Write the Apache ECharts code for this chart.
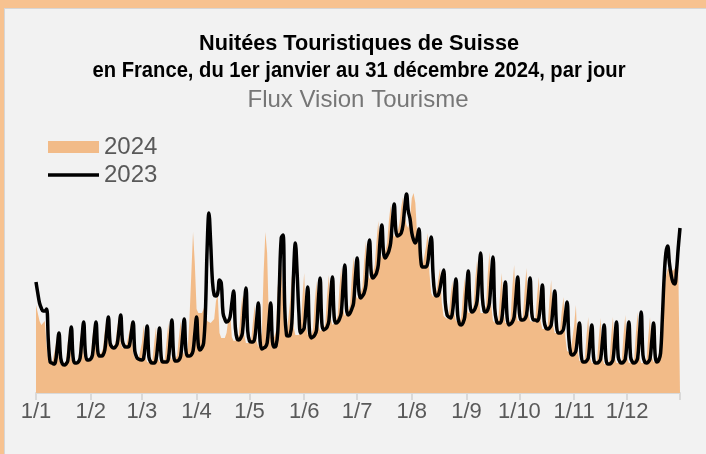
<!DOCTYPE html>
<html>
<head>
<meta charset="utf-8">
<title>Nuitées Touristiques de Suisse</title>
<script src="https://cdn.jsdelivr.net/npm/echarts@6/dist/echarts.min.js"></script>
<style>
  body { margin: 0; background: #F7C290; overflow: hidden; }
  #frame { position: absolute; left: 4px; top: 8px; width: 720px; height: 460px; background: #F2F2F2; border: 1px solid #D6D6D6; }
  #chart { position: absolute; left: 0; top: 0; width: 706px; height: 454px; }
</style>
</head>
<body>
<div id="frame"></div>
<div id="chart"></div>
<script>
// libellés des mois affichés sur l'axe
var monthLabels = ['1/1', '1/2', '1/3', '1/4', '1/5', '1/6', '1/7', '1/8', '1/9', '1/10', '1/11', '1/12'];

// nuitées 2024, une ligne = une semaine (lundi -> dimanche), indice relatif
var nuitees2024 = [
  88, 80, 72, 68, 68, 72, 48,
  31, 29, 29, 31, 46, 58, 34,
  29, 29, 29, 32, 50, 64, 35,
  30, 30, 31, 34, 53, 68, 38,
  33, 33, 34, 37, 56, 70, 42,
  38, 38, 40, 45, 62, 74, 50,
  46, 46, 47, 50, 65, 76, 50,
  45, 45, 46, 48, 62, 72, 40,
  35, 33, 33, 35, 50, 68, 36,
  31, 30, 30, 33, 50, 66, 35,
  31, 31, 31, 34, 52, 70, 38,
  33, 33, 34, 38, 56, 72, 43,
  38, 38, 45, 75, 118, 161, 130,
  84, 80, 79, 80, 84, 90, 72,
  70, 70, 71, 74, 92, 98, 60,
  55, 54, 55, 60, 74, 82, 56,
  52, 52, 53, 58, 82, 98, 58,
  50, 49, 50, 54, 72, 88, 52,
  46, 46, 60, 120, 161, 140, 70,
  56, 55, 56, 62, 105, 135, 128,
  95, 60, 57, 58, 92, 118, 66,
  58, 57, 58, 62, 95, 120, 68,
  58, 57, 58, 64, 92, 112, 68,
  62, 62, 64, 70, 98, 118, 75,
  68, 69, 72, 78, 106, 126, 84,
  77, 78, 82, 88, 116, 136, 100,
  94, 96, 100, 106, 132, 152, 120,
  114, 116, 120, 128, 152, 172, 142,
  135, 138, 142, 150, 172, 188, 162,
  156, 158, 162, 170, 186, 196, 178,
  168, 165, 175, 195, 200, 190, 158,
  145, 130, 126, 128, 146, 160, 120,
  100, 96, 97, 102, 114, 125, 90,
  77, 75, 74, 78, 98, 112, 80,
  72, 70, 71, 76, 98, 115, 86,
  80, 79, 81, 88, 115, 133, 92,
  80, 79, 80, 86, 118, 141, 88,
  72, 70, 69, 72, 98, 120, 80,
  70, 69, 70, 75, 106, 128, 82,
  72, 72, 72, 77, 104, 125, 80,
  72, 72, 71, 74, 97, 116, 72,
  64, 63, 64, 67, 93, 113, 68,
  60, 59, 60, 63, 82, 96, 56,
  42, 40, 40, 42, 68, 88, 42,
  32, 31, 31, 34, 57, 76, 36,
  30, 30, 30, 33, 56, 75, 35,
  29, 29, 29, 32, 57, 76, 35,
  30, 30, 30, 33, 58, 78, 36,
  30, 30, 30, 34, 60, 81, 36,
  30, 30, 30, 33, 56, 76, 36,
  31, 31, 32, 38, 55, 82, 100,
  116, 124, 126, 125, 122, 124, 127,
  130, 132
];

// nuitées 2023 placées à la même date (pas de 29 février)
var nuitees2023 = [
  111, 100, 90, 85, 82, 82, 84,
  52, 31, 30, 29, 31, 45, 60,
  35, 29, 28, 29, 32, 50, 66,
  36, 30, 30, 31, 35, 54, 71,
  40, 33, 33, 34, 38, 56, 71,
  42, 37, 37, 38, 43, 60, 76,
  50, 46, 45, 46, 49, 63, 78,
  52, 47, 46, 46, 48, 60, 71,
  42, 36, 34, null, 33, 35, 50,
  67, 36, 31, 30, 30, 33, 48,
  65, 35, 31, 31, 31, 34, 52,
  73, 38, 32, 32, 33, 37, 55,
  74, 42, 37, 37, 38, 42, 59,
  76, 48, 43, 45, 50, 80, 145,
  180, 150, 112, 98, 97, 100, 113,
  110, 80, 74, 71, 72, 76, 90,
  102, 65, 54, 53, 55, 60, 85,
  105, 62, 52, 51, 51, 55, 72,
  90, 52, 44, 45, 46, 50, 70,
  90, 52, 46, 47, 60, 110, 155,
  158, 85, 58, 57, 58, 70, 120,
  150, 120, 80, 60, 62, 65, 85,
  106, 62, 55, 56, 58, 63, 92,
  115, 70, 63, 64, 66, 72, 97,
  116, 76, 70, 71, 74, 80, 106,
  128, 84, 78, 80, 84, 90, 115,
  135, 102, 95, 97, 100, 108, 135,
  153, 120, 115, 117, 120, 128, 152,
  168, 140, 135, 138, 142, 150, 172,
  189, 162, 157, 158, 160, 168, 186,
  199, 182, 174, 160, 153, 150, 155,
  164, 135, 126, 126, 126, 130, 145,
  156, 120, 100, 97, 98, 105, 115,
  123, 90, 78, 76, 75, 80, 98,
  114, 78, 69, 68, 70, 76, 100,
  122, 88, 81, 82, 85, 92, 118,
  140, 95, 82, 81, 83, 90, 115,
  136, 85, 72, 70, 70, 74, 92,
  111, 76, 68, 69, 71, 76, 96,
  116, 80, 73, 73, 74, 78, 96,
  115, 80, 73, 73, 72, 75, 90,
  108, 72, 65, 64, 65, 68, 85,
  102, 68, 60, 60, 61, 64, 78,
  91, 55, 40, 38, 39, 42, 56,
  70, 38, 31, 31, 32, 35, 52,
  68, 36, 30, 30, 31, 34, 51,
  68, 35, 29, 29, 30, 33, 52,
  71, 36, 31, 30, 31, 34, 52,
  71, 36, 31, 30, 31, 35, 58,
  81, 38, 31, 30, 31, 34, 52,
  70, 36, 31, 33, 40, 75, 115,
  140, 147, 130, 118, 111, 109, 122,
  145, 165
];

// jours de l'année 2024 (j/m)
var jours = [];
for (var i = 0; i < nuitees2024.length; i++) {
  var d = new Date(2024, 0, 1 + i);
  jours.push(d.getDate() + '/' + (d.getMonth() + 1));
}

var titre1 = 'Nuitées Touristiques de Suisse';
var titre2 = 'en France, du 1er janvier au 31 décembre 2024, par jour';
var sousTitre = 'Flux Vision Tourisme';

// police étroite simulée : Liberation Sans Bold compressée à la largeur du modèle
var ctx = document.createElement('canvas').getContext('2d');
ctx.font = 'bold 22px "Liberation Sans"';
var sx1 = 320 / ctx.measureText(titre1).width;
var sx2 = 533 / ctx.measureText(titre2).width;

var titleFont = { fill: '#000', fontSize: 22, fontWeight: 'bold', fontFamily: '"Liberation Sans", Arial, sans-serif', align: 'center', verticalAlign: 'middle' };

var chart = echarts.init(document.getElementById('chart'));
var option = {
  animation: false,
  backgroundColor: 'transparent',
  graphic: [
    { type: 'text', x: 359, y: 44, scaleX: sx1, style: Object.assign({ text: titre1 }, titleFont) },
    { type: 'text', x: 359, y: 71, scaleX: sx2, style: Object.assign({ text: titre2 }, titleFont) },
    { type: 'text', x: 358, y: 100, style: { text: sousTitre, fill: '#767676', fontSize: 24, fontFamily: '"Liberation Sans", Arial, sans-serif', align: 'center', verticalAlign: 'middle' } }
  ],
  legend: {
    left: 43,
    top: 130,
    orient: 'vertical',
    itemWidth: 51,
    itemHeight: 12,
    itemGap: 4,
    textStyle: { color: '#595959', fontSize: 24, lineHeight: 24, fontFamily: '"Liberation Sans", Arial, sans-serif' },
    data: [
      { name: '2024', icon: 'rect', itemStyle: { color: '#F2BB88' } },
      { name: '2023', icon: 'path://M0,0M0,12M0,4.3L51,4.3L51,7.7L0,7.7Z', itemStyle: { color: '#000' } }
    ]
  },
  grid: { left: 36, right: 26, top: 143, bottom: 61 },
  xAxis: {
    type: 'category',
    data: jours,
    boundaryGap: false,
    axisLine: { lineStyle: { color: '#D9D9D9', width: 2 } },
    axisTick: {
      length: 7,
      lineStyle: { color: '#D9D9D9', width: 2 },
      interval: function (idx, val) { return monthLabels.indexOf(val) >= 0 || idx === jours.length - 1; }
    },
    axisLabel: {
      color: '#595959',
      fontSize: 22,
      margin: 8,
      fontFamily: '"Liberation Sans", Arial, sans-serif',
      interval: function (idx, val) { return monthLabels.indexOf(val) >= 0; }
    },
    splitLine: { show: false }
  },
  yAxis: {
    type: 'value',
    min: 0,
    max: 250,
    show: false
  },
  series: [
    {
      name: '2024',
      type: 'line',
      data: nuitees2024,
      symbol: 'none',
      lineStyle: { width: 0, color: '#F2BB88' },
      itemStyle: { color: '#F2BB88' },
      areaStyle: { color: '#F2BB88', opacity: 1 }
    },
    {
      name: '2023',
      type: 'line',
      data: nuitees2023,
      symbol: 'none',
      smooth: 0.4,
      connectNulls: true,
      lineStyle: { width: 3.5, color: '#000' },
      itemStyle: { color: '#000' }
    }
  ]
};
chart.setOption(option);
</script>
</body>
</html>
